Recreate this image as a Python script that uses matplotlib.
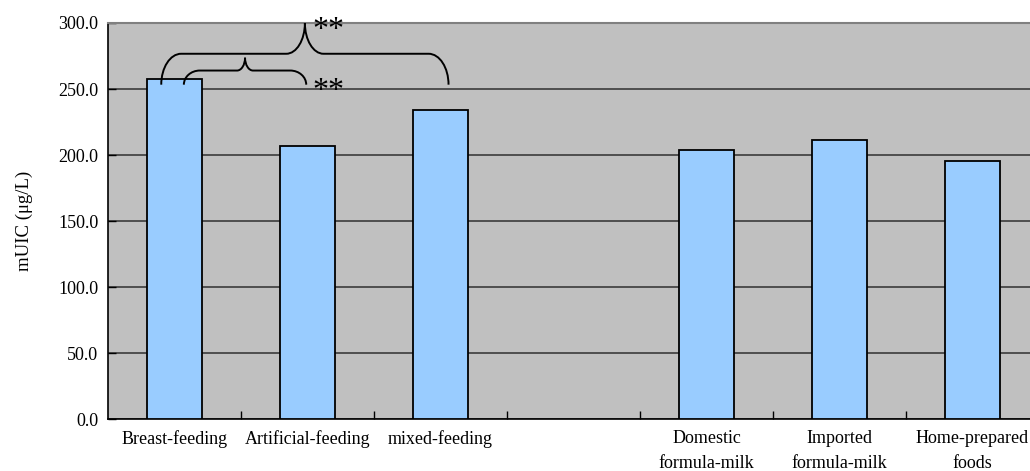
import numpy as np
import matplotlib.pyplot as plt
from matplotlib.path import Path
from matplotlib.patches import PathPatch

plt.rcParams['font.family'] = ['Liberation Serif', 'DejaVu Serif']

# data
categories = ["Breast-feeding", "Artificial-feeding", "mixed-feeding", "",
              "Domestic\nformula-milk", "Imported\nformula-milk", "Home-prepared\nfoods"]
muic = [257.6, 206.8, 234.0, None, 204.2, 211.3, 195.9]
yticks = [0, 50, 100, 150, 200, 250, 300]


def brace(ax, x0, x1, xtip, y_end, y_h, y_tip, r_end, r_tip):
    k = 0.5523
    verts = [
        (x0, y_end),
        (x0, y_end + k * (y_h - y_end)), (x0 + (1 - k) * r_end, y_h), (x0 + r_end, y_h),
        (xtip - r_tip, y_h),
        (xtip - r_tip + k * r_tip, y_h), (xtip, y_tip - k * (y_tip - y_h)), (xtip, y_tip),
        (xtip, y_tip - k * (y_tip - y_h)), (xtip + r_tip - k * r_tip, y_h), (xtip + r_tip, y_h),
        (x1 - r_end, y_h),
        (x1 - (1 - k) * r_end, y_h), (x1, y_end + k * (y_h - y_end)), (x1, y_end),
    ]
    codes = [Path.MOVETO,
             Path.CURVE4, Path.CURVE4, Path.CURVE4,
             Path.LINETO,
             Path.CURVE4, Path.CURVE4, Path.CURVE4,
             Path.CURVE4, Path.CURVE4, Path.CURVE4,
             Path.LINETO,
             Path.CURVE4, Path.CURVE4, Path.CURVE4]
    ax.add_patch(PathPatch(Path(verts, codes), fill=False, lw=1.4,
                           edgecolor='black', clip_on=False, zorder=5))


fig = plt.figure(figsize=(10.30, 4.71), dpi=100)
ax = fig.add_axes([0.1049, 0.1098, 0.9039, 0.8414])
ax.set_facecolor('#C0C0C0')

x = np.arange(len(categories))
idx = [i for i, v in enumerate(muic) if v is not None]
ax.bar(x[idx], [muic[i] for i in idx], width=0.41, color='#99CCFF',
       edgecolor='black', linewidth=1.3, zorder=3)

ax.set_xlim(-0.5, len(categories) - 0.5)
ax.set_ylim(0, 300)
ax.set_yticks(yticks)
ax.set_yticklabels([f"{v:.1f}" for v in yticks], fontsize=13)
ax.set_xticks(x)
ax.set_xticklabels(categories, fontsize=13, linespacing=1.55)
ax.set_xticks(x[:-1] + 0.5, minor=True)
ax.tick_params(axis='x', which='major', length=0, pad=8)
ax.tick_params(axis='x', which='minor', direction='in', length=6, width=1)
ax.tick_params(axis='y', direction='in', length=6, width=1, pad=7)
ax.grid(axis='y', color='#303030', linewidth=1.1, zorder=1)
ax.set_axisbelow(True)
ax.set_ylabel("mUIC (μg/L)", fontsize=13.5, labelpad=18)

ax.spines['top'].set_color('#808080')
ax.spines['top'].set_linewidth(1.5)
ax.spines['right'].set_visible(False)
for s in ['left', 'bottom']:
    ax.spines[s].set_color('black')
    ax.spines[s].set_linewidth(1.2)

# significance braces
brace(ax, 0.07, 0.99, 0.53, 253.3, 264.0, 273.7, 0.12, 0.06)
brace(ax, -0.10, 2.06, 0.98, 253.3, 276.7, 300.0, 0.15, 0.14)
ax.text(1.04, 248.5, "**", fontsize=23, ha='left', va='center', zorder=6)
ax.text(1.04, 294.5, "**", fontsize=23, ha='left', va='center', zorder=6)

fig.savefig("out.png", dpi=100)
